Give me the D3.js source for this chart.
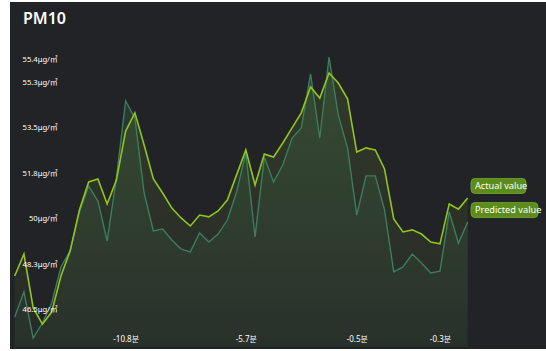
<html>
<head>
  <meta charset="utf-8">
  <title>PM10</title>
  <style>
    body {
      padding: 0;
      margin: 0;
      background: #ffffff;
      font-family: "Noto Sans", "Noto Sans CJK KR", sans-serif;
    }
    .axis text {
      fill: #ffffff;
      font-family: "Noto Sans", "Noto Sans CJK KR", sans-serif;
    }
    .tag text {
      fill: #ffffff;
      font-size: 9.2px;
    }
  </style>
</head>
<body>
  <div id="chart"></div>

  <script src="https://cdn.jsdelivr.net/npm/d3@7"></script>
  <script>
    // data
    var actual = [47.77, 48.62, 46.54, 45.92, 46.38, 47.77, 48.74, 50.32, 51.40, 51.51,
      50.55, 51.47, 53.36, 54.06, 52.82, 51.51, 50.97, 50.39, 50.01, 49.70,
      50.12, 50.05, 50.28, 50.70, 51.67, 52.63, 51.28, 52.47, 52.36, 52.90,
      53.48, 54.06, 55.06, 54.63, 55.60, 55.21, 54.60, 52.55, 52.71, 52.63,
      51.90, 49.97, 49.47, 49.55, 49.39, 49.08, 49.01, 50.55, 50.35, 50.78];
    var predicted = [46.19, 47.16, 45.38, 45.96, 46.73, 48.12, 48.74, 50.24, 51.24, 50.66,
      49.12, 51.55, 54.52, 53.86, 50.97, 49.51, 49.58, 49.16, 48.81, 48.70,
      49.43, 49.08, 49.39, 49.93, 51.01, 52.51, 49.28, 52.36, 51.40, 52.05,
      53.09, 53.48, 55.56, 53.09, 56.21, 53.98, 52.71, 50.12, 51.63, 51.63,
      50.32, 47.93, 48.12, 48.62, 48.27, 47.89, 47.96, 50.24, 49.04, 49.85];
    var seriesNames = ["Actual value", "Predicted value"];

    var xTickIndex = [12, 25, 37, 46];
    var xTickLabels = ["-10.8분", "-5.7분", "-0.5분", "-0.3분"];

    var yTicks = [46.5, 48.25, 50, 51.75, 53.5, 55.25, 56.125];
    var yTickLabels = ["46.5", "48.3", "50", "51.8", "53.5", "55.3", "55.4"];

    var width = 546,
      height = 351;

    var svg = d3.select("#chart")
      .append("svg")
      .attr("width", width)
      .attr("height", height);

    // dark panel
    svg.append("rect")
      .attr("x", 10)
      .attr("y", 2)
      .attr("width", 536)
      .attr("height", 347)
      .attr("fill", "#222327");

    svg.append("text")
      .attr("x", 23)
      .attr("y", 24)
      .attr("fill", "#ffffff")
      .attr("font-size", 16)
      .attr("font-weight", 600)
      .text("PM10");

    var x = d3.scalePoint()
      .domain(d3.range(actual.length))
      .range([14.7, 467.7]);

    var y = d3.scaleLinear()
      .domain([45.625, 56.125])
      .range([331.7, 59.3]);

    var bottom = 347;

    // gradients for the areas
    var defs = svg.append("defs");
    function gradient(id, color, top, low) {
      var g = defs.append("linearGradient")
        .attr("id", id)
        .attr("x1", 0).attr("y1", 0)
        .attr("x2", 0).attr("y2", 1);
      g.append("stop").attr("offset", "0%").attr("stop-color", color).attr("stop-opacity", top);
      g.append("stop").attr("offset", "100%").attr("stop-color", color).attr("stop-opacity", low);
    }
    gradient("gActual", "#7ea832", 0.17, 0.05);
    gradient("gPred", "#3f7a4e", 0.28, 0.08);

    var area = d3.area()
      .x(function(d, i) { return x(i); })
      .y0(bottom)
      .y1(function(d) { return y(d); });

    var line = d3.line()
      .x(function(d, i) { return x(i); })
      .y(function(d) { return y(d); });

    svg.append("path")
      .datum(actual)
      .attr("d", area)
      .attr("fill", "url(#gActual)");

    svg.append("path")
      .datum(predicted)
      .attr("d", area)
      .attr("fill", "url(#gPred)");

    svg.append("path")
      .datum(predicted)
      .attr("d", line)
      .attr("fill", "none")
      .attr("stroke", "#3d7c5c")
      .attr("stroke-width", 1.4);

    svg.append("path")
      .datum(actual)
      .attr("d", line)
      .attr("fill", "none")
      .attr("stroke", "#92c51c")
      .attr("stroke-width", 1.6);

    // y labels sit inside the plot
    var yAxis = svg.append("g")
      .attr("class", "axis")
      .attr("transform", "translate(57.5,0)")
      .call(d3.axisLeft(y)
        .tickValues(yTicks)
        .tickSize(0)
        .tickPadding(0)
        .tickFormat(function(d, i) { return yTickLabels[i] + "μg/㎥"; }));
    yAxis.select(".domain").remove();
    yAxis.selectAll("text").attr("font-size", 7.6);

    var xAxis = svg.append("g")
      .attr("class", "axis")
      .attr("transform", "translate(0,333)")
      .call(d3.axisBottom(x)
        .tickValues(xTickIndex)
        .tickSize(0)
        .tickPadding(3)
        .tickFormat(function(d, i) { return xTickLabels[i]; }));
    xAxis.select(".domain").remove();
    xAxis.selectAll("text").attr("font-size", 8);

    // end labels
    var ends = [actual[actual.length - 1], predicted[predicted.length - 1]];
    var tags = svg.selectAll(".tag")
      .data(seriesNames)
      .enter()
      .append("g")
      .attr("class", "tag")
      .attr("transform", function(d, i) {
        return "translate(471," + (y(ends[i]) - 19.5) + ")";
      });

    tags.append("rect")
      .attr("width", function(d, i) { return i == 0 ? 55 : 67; })
      .attr("height", 15)
      .attr("rx", 4)
      .attr("fill", "#5b8c1c")
      .attr("stroke", "#78a82e")
      .attr("stroke-width", 0.8);

    tags.append("text")
      .attr("x", 4)
      .attr("y", 10.8)
      .text(function(d) { return d; });
  </script>
</body>
</html>
